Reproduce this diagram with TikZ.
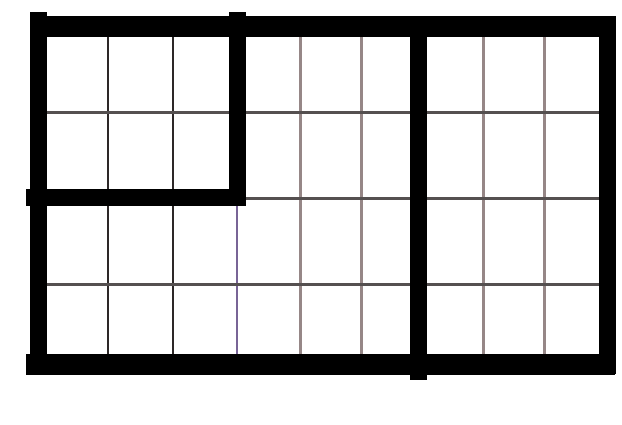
\documentclass[tikz,border=0pt]{standalone}
\usepackage{tikz}
\usetikzlibrary{positioning}
\definecolor{griddark}{RGB}{45,40,40}
\definecolor{gridbrown}{RGB}{150,135,135}
\definecolor{gridrow}{RGB}{85,80,80}
\definecolor{gridviolet}{RGB}{120,100,150}
\tikzstyle{wall}      = [line width=17pt, draw=black, line cap=butt]
\tikzstyle{wallh}     = [line width=21pt, draw=black, line cap=butt]
\tikzstyle{gridline}  = [line width=2.5pt, draw=griddark]
\tikzstyle{gridlight} = [line width=3pt, draw=gridbrown]
\tikzstyle{gridrowln} = [line width=3pt, draw=gridrow]

\begin{document}
\begin{tikzpicture}[x=1pt, y=-1pt]
    \useasboundingbox (0,0) rectangle (622,424);
    \fill[white] (0,0) rectangle (622,424);

    % thin grid
    \foreach \gx in {108,173}
        \draw [gridline] (\gx,26) -- (\gx,364);
    \foreach \gx in {300,361,483,544}
        \draw [gridlight] (\gx,26) -- (\gx,364);
    \draw [gridline, draw=gridviolet] (237,196) -- (237,364);
    \foreach \gy in {112,284}
        \draw [gridrowln] (38,\gy) -- (607,\gy);
    \draw [gridrowln] (237,198) -- (607,198);

    % thick walls
    \draw [wallh] (30,26) -- (615,26);
    \draw [wallh] (26,364) -- (615,364);
    \draw [wall] (38,12) -- (38,374);
    \draw [wall] (607,16) -- (607,374);
    \draw [wall] (237,12) -- (237,205);
    \draw [wall] (26,197) -- (246,197);
    \draw [wall] (418,26) -- (418,380);
\end{tikzpicture}
\end{document}
